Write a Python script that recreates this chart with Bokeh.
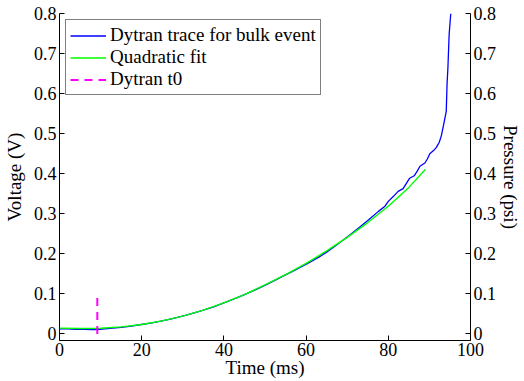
import math
from bokeh.plotting import figure
from bokeh.models import Range1d, LinearAxis, FixedTicker, Legend, LegendItem
from bokeh.embed import file_html
from bokeh.resources import INLINE

# ---- data ----
t_trace = [0, 2, 4, 6, 8, 9.2, 11, 13, 15, 17.5, 19.9, 22.5, 25, 27.5, 30.4, 33,
           35, 37.5, 39.7, 42.5, 45, 47.5, 50.2, 52.5, 55, 57.5, 60.6, 63, 65, 67,
           68.7, 71, 73, 75, 77.6, 79.2, 80.0, 81.2, 82.4, 83.6, 84.4, 85.2, 86.3,
           87.0, 87.7, 88.9, 89.5, 90.1, 91.0, 91.7, 92.4, 92.9, 93.5, 94.1, 94.3,
           94.5, 94.8, 95.2]
v_trace = [0.011, 0.011, 0.010, 0.010, 0.009, 0.009, 0.011, 0.013, 0.015, 0.018,
           0.022, 0.026, 0.031, 0.037, 0.044, 0.052, 0.058, 0.066, 0.075, 0.086,
           0.097, 0.108, 0.121, 0.133, 0.146, 0.159, 0.176, 0.190, 0.203, 0.218,
           0.231, 0.249, 0.265, 0.282, 0.305, 0.318, 0.330, 0.342, 0.355, 0.362,
           0.375, 0.388, 0.394, 0.405, 0.418, 0.426, 0.436, 0.449, 0.457, 0.465,
           0.478, 0.494, 0.524, 0.555, 0.625, 0.663, 0.747, 0.800]

t_fit = [0, 5, 10, 15, 20, 25, 30, 35, 40, 45, 50, 55, 60, 65, 70, 75, 80, 85, 89]
v_fit = [0.013, 0.012, 0.0125, 0.016, 0.022, 0.031, 0.043, 0.058, 0.076, 0.097,
         0.121, 0.147, 0.175, 0.206, 0.240, 0.277, 0.318, 0.365, 0.410]

t0_time = [9.2, 9.2]
t0_volt = [-0.002, 0.09]

x_ticks = [0, 20, 40, 60, 80, 100]
x_tick_labels = ["0", "20", "40", "60", "80", "100"]
y_ticks = [0, 0.1, 0.2, 0.3, 0.4, 0.5, 0.6, 0.7, 0.8]
y_tick_labels = ["0", "0.1", "0.2", "0.3", "0.4", "0.5", "0.6", "0.7", "0.8"]

legend_labels = ["Dytran trace for bulk event", "Quadratic fit", "Dytran t0"]
x_title = "Time (ms)"
y_title = "Voltage (V)"
y2_title = "Pressure (psi)"

FONT = "Liberation Serif"

p = figure(width=524, height=381, output_backend="svg", toolbar_location=None,
           x_range=Range1d(0, 100), y_range=Range1d(-0.018, 0.8),
           min_border_left=59, min_border_right=51, min_border_top=13,
           min_border_bottom=41)
p.extra_y_ranges = {"right": Range1d(-0.018, 0.8)}
p.outline_line_color = None
p.xgrid.visible = False
p.ygrid.visible = False
p.background_fill_color = "white"

r_trace = p.line(t_trace, v_trace, line_color="#0000ff", line_width=1.3)
r_fit = p.line(t_fit, v_fit, line_color="#00ff00", line_width=1.4)
r_t0 = p.line(t0_time, t0_volt, line_color="#ff00ff", line_width=2, line_dash="8 6")

right_axis = LinearAxis(y_range_name="right")
p.add_layout(right_axis, "right")


def style_axis(ax, ticks, labels):
    ax.ticker = FixedTicker(ticks=ticks)
    ax.major_label_overrides = {t: l for t, l in zip(ticks, labels)}
    ax.major_tick_in = 5
    ax.major_tick_out = 0
    ax.minor_tick_in = 0
    ax.minor_tick_out = 0
    ax.axis_line_color = "black"
    ax.major_tick_line_color = "black"
    ax.major_label_text_font = FONT
    ax.major_label_text_font_size = "18px"
    ax.major_label_text_color = "black"
    ax.axis_label_text_font = FONT
    ax.axis_label_text_font_size = "19px"
    ax.axis_label_text_font_style = "normal"
    ax.axis_label_text_color = "black"
    ax.major_label_standoff = 3


style_axis(p.xaxis[0], x_ticks, x_tick_labels)
style_axis(p.yaxis[0], y_ticks, y_tick_labels)
style_axis(right_axis, y_ticks, y_tick_labels)
p.xaxis[0].axis_label = x_title
p.yaxis[0].axis_label = y_title
right_axis.axis_label = y2_title
p.xaxis[0].major_label_standoff = 2
p.xaxis[0].axis_label_standoff = -2
p.yaxis[0].axis_label_standoff = 6
right_axis.axis_label_standoff = 1

legend = Legend(items=[LegendItem(label=legend_labels[0], renderers=[r_trace]),
                       LegendItem(label=legend_labels[1], renderers=[r_fit]),
                       LegendItem(label=legend_labels[2], renderers=[r_t0])],
                location="top_left")
legend.margin = 6
legend.padding = 4
legend.spacing = 0
legend.glyph_width = 36
legend.glyph_height = 21
legend.label_height = 21
legend.label_standoff = 4
legend.label_text_font = FONT
legend.label_text_font_size = "19px"
legend.label_text_color = "black"
legend.border_line_color = "black"
legend.border_line_width = 1
legend.background_fill_alpha = 1.0
p.add_layout(legend)

open("out.html", "w").write(file_html(p, INLINE))
